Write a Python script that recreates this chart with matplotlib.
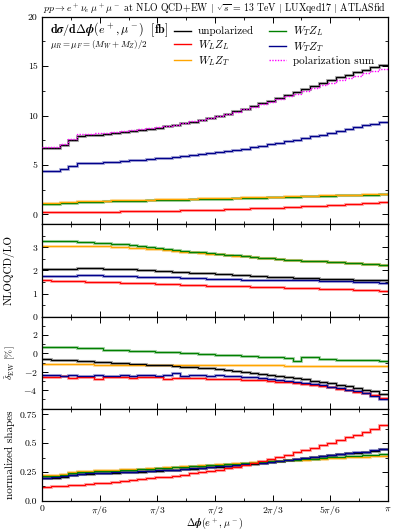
import numpy as np
import matplotlib
matplotlib.use("Agg")
import matplotlib.pyplot as plt
from matplotlib.ticker import FixedLocator, FixedFormatter, MultipleLocator
from matplotlib.lines import Line2D

plt.rcParams['font.family'] = 'serif'
plt.rcParams['font.serif'] = ['cmr10']
plt.rcParams['mathtext.fontset'] = 'cm'
plt.rcParams['axes.unicode_minus'] = False
plt.rcParams['axes.formatter.use_mathtext'] = True

# ---------------- data (40 bins in Delta phi from 0 to pi) ----------------
n_bins = 40
series_names = ["unpolarized", r"$W_LZ_L$", r"$W_LZ_T$", r"$W_TZ_L$", r"$W_TZ_T$", "polarization sum"]

xs_unpol = [6.70, 6.72, 7.00, 7.50, 7.95, 8.00, 8.06, 8.13, 8.21, 8.30, 8.40, 8.51, 8.63, 8.76, 8.90, 9.05, 9.21, 9.38, 9.57, 9.77,
            9.98, 10.20, 10.44, 10.69, 10.95, 11.22, 11.50, 11.80, 12.10, 12.40, 12.70, 13.00, 13.29, 13.57, 13.85, 14.12, 14.38, 14.63, 14.87, 15.08]
xs_polsum = [6.82, 6.85, 7.15, 7.65, 8.10, 8.14, 8.19, 8.25, 8.32, 8.40, 8.49, 8.59, 8.70, 8.82, 8.95, 9.09, 9.24, 9.40, 9.57, 9.76,
             9.96, 10.17, 10.40, 10.63, 10.88, 11.13, 11.39, 11.66, 11.94, 12.22, 12.50, 12.78, 13.05, 13.31, 13.56, 13.81, 14.05, 14.28, 14.50, 14.68]
xs_TT = [4.35, 4.38, 4.60, 4.90, 5.15, 5.20, 5.25, 5.30, 5.35, 5.41, 5.47, 5.53, 5.59, 5.66, 5.73, 5.81, 5.89, 5.98, 6.07, 6.17,
         6.28, 6.40, 6.52, 6.65, 6.79, 6.93, 7.08, 7.24, 7.40, 7.57, 7.74, 7.91, 8.08, 8.25, 8.45, 8.64, 8.83, 9.01, 9.18, 9.33]
xs_TL = [1.05, 1.07, 1.12, 1.18, 1.25, 1.27, 1.29, 1.31, 1.33, 1.35, 1.37, 1.39, 1.41, 1.43, 1.45, 1.47, 1.49, 1.51, 1.53, 1.55,
         1.58, 1.60, 1.62, 1.65, 1.67, 1.70, 1.72, 1.75, 1.77, 1.80, 1.82, 1.85, 1.87, 1.89, 1.92, 1.94, 1.96, 1.98, 2.00, 2.02]
xs_LT = [1.17, 1.18, 1.22, 1.27, 1.33, 1.35, 1.37, 1.39, 1.41, 1.43, 1.45, 1.47, 1.49, 1.51, 1.53, 1.55, 1.57, 1.59, 1.61, 1.63,
         1.65, 1.67, 1.70, 1.72, 1.74, 1.76, 1.79, 1.81, 1.83, 1.86, 1.88, 1.90, 1.92, 1.94, 1.96, 1.98, 2.00, 2.02, 2.04, 2.06]
xs_LL = [0.20, 0.21, 0.22, 0.23, 0.24, 0.25, 0.26, 0.27, 0.29, 0.30, 0.31, 0.33, 0.34, 0.36, 0.37, 0.39, 0.41, 0.43, 0.45, 0.47,
         0.49, 0.52, 0.54, 0.57, 0.60, 0.63, 0.66, 0.69, 0.73, 0.77, 0.81, 0.85, 0.89, 0.93, 0.98, 1.03, 1.08, 1.13, 1.18, 1.22]

k_TL = [3.28, 3.28, 3.27, 3.26, 3.25, 3.23, 3.21, 3.19, 3.16, 3.13, 3.10, 3.06, 3.02, 2.98, 2.94, 2.90, 2.86, 2.82, 2.78, 2.75,
        2.71, 2.68, 2.65, 2.62, 2.59, 2.56, 2.53, 2.50, 2.47, 2.45, 2.43, 2.41, 2.39, 2.37, 2.35, 2.33, 2.31, 2.29, 2.27, 2.24]
k_LT = [3.08, 3.08, 3.08, 3.08, 3.07, 3.06, 3.05, 3.04, 3.02, 3.00, 2.98, 2.96, 2.93, 2.91, 2.88, 2.85, 2.82, 2.79, 2.76, 2.73,
        2.70, 2.67, 2.64, 2.61, 2.58, 2.56, 2.53, 2.50, 2.47, 2.45, 2.43, 2.41, 2.39, 2.37, 2.35, 2.33, 2.31, 2.29, 2.26, 2.23]
k_unpol = [2.05, 2.06, 2.07, 2.08, 2.09, 2.09, 2.09, 2.08, 2.07, 2.06, 2.05, 2.03, 2.01, 1.99, 1.97, 1.95, 1.93, 1.91, 1.89, 1.87,
           1.85, 1.83, 1.81, 1.79, 1.77, 1.75, 1.73, 1.71, 1.70, 1.68, 1.67, 1.66, 1.65, 1.64, 1.63, 1.62, 1.61, 1.60, 1.58, 1.57]
k_TT = [1.75, 1.76, 1.77, 1.78, 1.79, 1.79, 1.79, 1.78, 1.77, 1.76, 1.75, 1.74, 1.73, 1.72, 1.71, 1.70, 1.69, 1.67, 1.66, 1.65,
        1.63, 1.62, 1.62, 1.61, 1.61, 1.60, 1.60, 1.59, 1.59, 1.58, 1.57, 1.57, 1.56, 1.55, 1.54, 1.53, 1.52, 1.51, 1.49, 1.47]
k_LL = [1.57, 1.56, 1.55, 1.54, 1.53, 1.52, 1.51, 1.50, 1.49, 1.48, 1.47, 1.46, 1.44, 1.43, 1.42, 1.40, 1.39, 1.38, 1.36, 1.35,
        1.34, 1.33, 1.32, 1.31, 1.30, 1.29, 1.28, 1.27, 1.26, 1.25, 1.24, 1.23, 1.22, 1.21, 1.20, 1.19, 1.17, 1.16, 1.14, 1.12]

ew_TL = [0.76, 0.74, 0.71, 0.67, 0.62, 0.57, 0.65, 0.40, 0.38, 0.35, 0.31, 0.27, 0.23, 0.19, 0.15, 0.11, 0.06, 0.02, -0.04, -0.09,
         -0.13, -0.17, -0.21, -0.25, -0.29, -0.33, -0.37, -0.41, -0.46, -0.80, -0.37, -0.38, -0.62, -0.64, -0.66, -0.68, -0.70, -0.72, -0.74, -0.77]
ew_LT = [-1.17, -1.17, -1.18, -1.18, -1.19, -1.19, -1.20, -1.20, -1.21, -1.21, -1.22, -1.22, -1.23, -1.23, -1.24, -1.24, -1.25, -1.25, -1.26, -1.26,
         -1.27, -1.27, -1.28, -1.28, -1.29, -1.29, -1.30, -1.30, -1.31, -1.31, -1.32, -1.32, -1.33, -1.33, -1.34, -1.35, -1.36, -1.37, -1.38, -1.39]
ew_unpol = [-0.65, -0.68, -0.72, -0.76, -0.80, -0.85, -0.90, -0.95, -1.00, -1.05, -1.10, -1.15, -1.20, -1.25, -1.30, -1.36, -1.42, -1.48, -1.55, -1.62,
            -1.70, -1.79, -1.88, -1.98, -2.09, -2.20, -2.32, -2.44, -2.56, -2.69, -2.82, -2.96, -3.10, -3.25, -3.41, -3.57, -3.74, -3.92, -4.12, -4.40]
ew_TT = [-2.37, -2.30, -2.45, -2.35, -2.40, -2.42, -2.38, -2.45, -2.40, -2.35, -2.42, -2.38, -2.30, -2.40, -2.35, -2.10, -2.40, -2.38, -2.35, -2.40,
         -2.38, -2.42, -2.48, -2.52, -2.60, -2.68, -2.76, -2.85, -2.95, -3.06, -3.18, -3.31, -3.45, -3.60, -3.76, -3.93, -4.12, -4.33, -4.57, -4.90]
ew_LL = [-2.55, -2.60, -2.50, -2.62, -2.55, -2.58, -2.72, -2.55, -2.60, -2.52, -2.65, -2.58, -2.55, -2.60, -2.72, -2.62, -2.65, -2.68, -2.70, -2.72,
         -2.75, -2.78, -2.80, -2.84, -2.88, -2.93, -2.99, -3.06, -3.14, -3.23, -3.33, -3.44, -3.56, -3.69, -3.83, -3.98, -4.15, -4.34, -4.56, -4.84]

sh_unpol = [0.195, 0.197, 0.207, 0.222, 0.234, 0.236, 0.239, 0.242, 0.245, 0.248, 0.251, 0.254, 0.257, 0.261, 0.265, 0.269, 0.274, 0.279, 0.284, 0.290,
            0.296, 0.302, 0.309, 0.316, 0.323, 0.331, 0.339, 0.347, 0.355, 0.363, 0.371, 0.379, 0.387, 0.395, 0.403, 0.411, 0.419, 0.427, 0.436, 0.446]
sh_LL = [0.120, 0.125, 0.130, 0.135, 0.140, 0.146, 0.152, 0.158, 0.165, 0.172, 0.179, 0.186, 0.194, 0.202, 0.210, 0.219, 0.228, 0.238, 0.248, 0.259,
         0.270, 0.282, 0.295, 0.310, 0.326, 0.343, 0.361, 0.380, 0.400, 0.420, 0.441, 0.462, 0.483, 0.505, 0.527, 0.550, 0.574, 0.599, 0.627, 0.660]
sh_TT = [0.200, 0.202, 0.212, 0.225, 0.236, 0.238, 0.241, 0.244, 0.247, 0.250, 0.253, 0.256, 0.259, 0.263, 0.267, 0.271, 0.276, 0.281, 0.286, 0.292,
         0.298, 0.304, 0.311, 0.318, 0.325, 0.332, 0.340, 0.348, 0.356, 0.364, 0.372, 0.380, 0.388, 0.396, 0.404, 0.412, 0.420, 0.428, 0.437, 0.447]
sh_TL = [0.214, 0.216, 0.226, 0.238, 0.250, 0.253, 0.256, 0.259, 0.262, 0.266, 0.270, 0.274, 0.278, 0.282, 0.286, 0.290, 0.294, 0.298, 0.302, 0.307,
         0.312, 0.317, 0.322, 0.327, 0.332, 0.337, 0.342, 0.347, 0.352, 0.357, 0.362, 0.367, 0.372, 0.377, 0.382, 0.386, 0.390, 0.394, 0.398, 0.402]
sh_LT = [0.226, 0.228, 0.236, 0.246, 0.257, 0.260, 0.263, 0.266, 0.269, 0.272, 0.276, 0.280, 0.284, 0.288, 0.292, 0.296, 0.300, 0.304, 0.308, 0.312,
         0.316, 0.320, 0.324, 0.329, 0.333, 0.337, 0.342, 0.346, 0.350, 0.354, 0.358, 0.362, 0.366, 0.370, 0.374, 0.378, 0.381, 0.384, 0.387, 0.390]

x_tick_labels = ["0", r"$\pi/6$", r"$\pi/3$", r"$\pi/2$", r"$2\pi/3$", r"$5\pi/6$", r"$\pi$"]

# ---------------- styling ----------------
C_UNPOL = "black"
C_LL = "#ff0000"
C_LT = "#ffa500"
C_TL = "#008000"
C_TT = "#00008b"
C_SUM = "#ff00ff"

edges = np.linspace(0, np.pi, n_bins + 1)

fig = plt.figure(figsize=(3.98, 5.32), dpi=100)
L, W = 0.1063, 0.8678
ax1 = fig.add_axes([L, 0.5784, W, 0.3902])
ax2 = fig.add_axes([L, 0.4047, W, 0.1737])
ax3 = fig.add_axes([L, 0.2318, W, 0.1729])
ax4 = fig.add_axes([L, 0.0588, W, 0.1729])


def draw(ax, vals, color, ls='-', band=True, lw=0.9, z=2):
    if band:
        ax.stairs(vals, edges, color=color, lw=2.2, alpha=0.3, zorder=z - 0.5, baseline=None)
    ax.stairs(vals, edges, color=color, lw=lw, ls=ls, zorder=z, baseline=None)


# panel 1
draw(ax1, xs_LL, C_LL)
draw(ax1, xs_TL, C_TL)
draw(ax1, xs_LT, C_LT)
draw(ax1, xs_TT, C_TT)
draw(ax1, xs_unpol, C_UNPOL)
draw(ax1, xs_polsum, C_SUM, ls=(0, (1, 1)), band=False, lw=1.0, z=3)

# panel 2
draw(ax2, k_LL, C_LL)
draw(ax2, k_TT, C_TT)
draw(ax2, k_unpol, C_UNPOL)
draw(ax2, k_LT, C_LT)
draw(ax2, k_TL, C_TL)

# panel 3
draw(ax3, ew_LT, C_LT)
draw(ax3, ew_TL, C_TL)
draw(ax3, ew_unpol, C_UNPOL)
draw(ax3, ew_LL, C_LL)
draw(ax3, ew_TT, C_TT)

# panel 4
draw(ax4, sh_unpol, C_UNPOL)
draw(ax4, sh_LT, C_LT)
draw(ax4, sh_TL, C_TL)
draw(ax4, sh_TT, C_TT)
draw(ax4, sh_LL, C_LL)

ax1.set_ylim(-1, 20)
ax2.set_ylim(0, 4)
ax3.set_ylim(-6, 4)
ax4.set_ylim(0, 0.8)

ax1.yaxis.set_major_locator(FixedLocator([0, 5, 10, 15, 20]))
ax1.yaxis.set_major_formatter(FixedFormatter(["0", "5", "10", "15", "20"]))
ax1.yaxis.set_minor_locator(MultipleLocator(2.5))
ax2.yaxis.set_major_locator(FixedLocator([0, 1, 2, 3]))
ax2.yaxis.set_major_formatter(FixedFormatter(["0", "1", "2", "3"]))
ax2.yaxis.set_minor_locator(MultipleLocator(0.5))
ax3.yaxis.set_major_locator(FixedLocator([-4, -2, 0, 2]))
ax3.yaxis.set_major_formatter(FixedFormatter([r"$-4$", r"$-2$", "0", "2"]))
ax3.yaxis.set_minor_locator(MultipleLocator(1))
ax4.yaxis.set_major_locator(FixedLocator([0, 0.25, 0.5, 0.75]))
ax4.yaxis.set_major_formatter(FixedFormatter(["0.0", "0.25", "0.5", "0.75"]))
ax4.yaxis.set_minor_locator(MultipleLocator(0.125))

for ax in (ax1, ax2, ax3, ax4):
    ax.set_xlim(0, np.pi)
    ax.xaxis.set_major_locator(FixedLocator([k * np.pi / 6 for k in range(7)]))
    ax.xaxis.set_minor_locator(FixedLocator([k * np.pi / 12 for k in range(13)]))
    ax.tick_params(which='both', direction='in', top=True, right=True, labelsize=7)
    ax.tick_params(which='major', length=4.5, width=0.7)
    ax.tick_params(which='minor', length=2.5, width=0.6)
    for s in ax.spines.values():
        s.set_linewidth(0.9)
    if ax is ax4:
        ax.xaxis.set_major_formatter(FixedFormatter(x_tick_labels))
        ax.tick_params(axis='x', pad=2.5)
    else:
        ax.tick_params(labelbottom=False)

ax2.set_ylabel("NLOQCD/LO", fontsize=8)
ax3.set_ylabel(r"$\tilde{\delta}_{\mathrm{EW}}$ [%]", fontsize=7)
ax4.set_ylabel("normalized shapes", fontsize=8)
for ax in (ax2, ax4):
    ax.yaxis.set_label_coords(-0.08, 0.5)
ax3.yaxis.set_label_coords(-0.07, 0.5)

fig.text(L + W / 2, 0.016,
         r"$\mathbf{\Delta}\boldsymbol{\phi}\mathbf{(}\boldsymbol{e^+},\boldsymbol{\mu^-}\mathbf{)}$",
         fontsize=7.2, ha='center', va='center')

ax1.set_title(r"$pp \to e^+\nu_e\,\mu^+\mu^-$ at NLO QCD+EW $|$ $\sqrt{s}$ = 13 TeV $|$ LUXqed17 $|$ ATLASfid",
              fontsize=7.1, pad=4)

ax1.text(0.022, 0.936,
         r"$\mathbf{d}\boldsymbol{\sigma}\mathbf{/d\Delta}\boldsymbol{\phi}\mathbf{(}\boldsymbol{e^+},\boldsymbol{\mu^-}\mathbf{)}\ \ \mathbf{[fb]}$",
         transform=ax1.transAxes, fontsize=8.7, va='center', ha='left')
ax1.text(0.022, 0.865, r"$\mu_R = \mu_F = (M_W + M_Z)/2$", transform=ax1.transAxes,
         fontsize=6.5, va='center', ha='left')

handles = [
    Line2D([], [], color=C_UNPOL, lw=1.0),
    Line2D([], [], color=C_LL, lw=1.0),
    Line2D([], [], color=C_LT, lw=1.0),
    Line2D([], [], color=C_TL, lw=1.0),
    Line2D([], [], color=C_TT, lw=1.0),
    Line2D([], [], color=C_SUM, lw=1.0, ls=(0, (1, 1))),
]
ax1.legend(handles, series_names, ncol=2, loc='upper left', bbox_to_anchor=(0.36, 1.0),
           frameon=False, fontsize=8, handlelength=1.5, handletextpad=0.6,
           columnspacing=1.4, labelspacing=0.15, borderaxespad=0.3)

fig.savefig("out.png", dpi=100)
